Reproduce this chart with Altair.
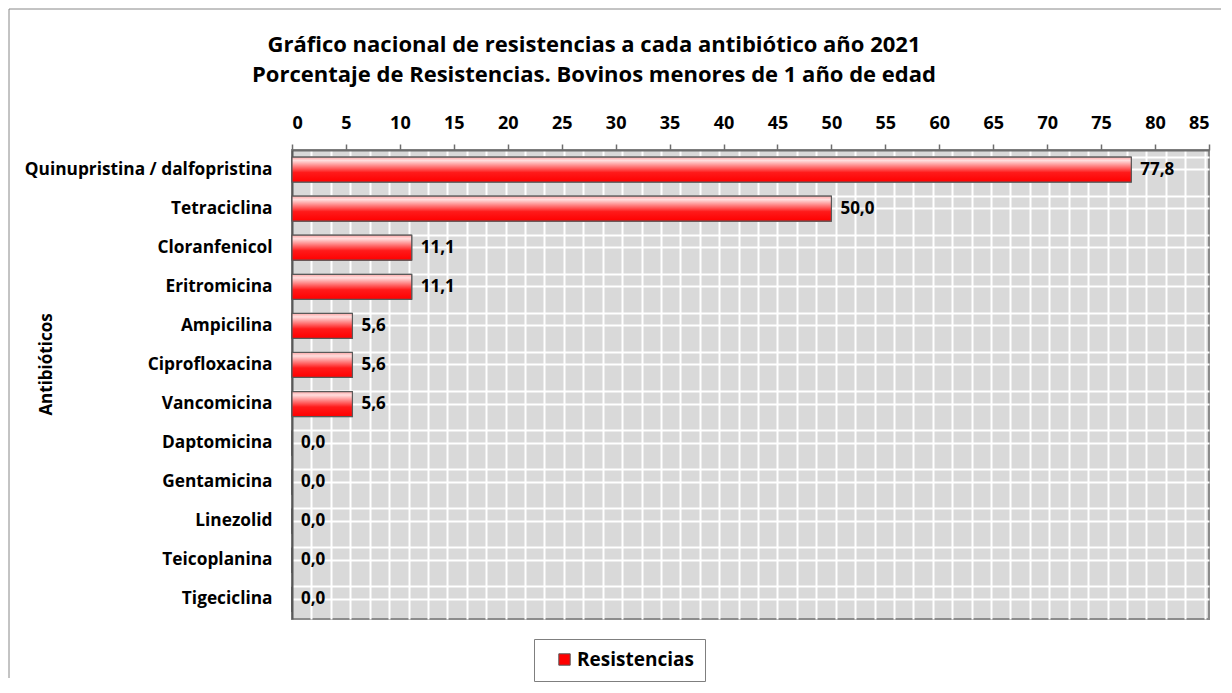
import altair as alt
import pandas as pd

antibioticos = ["Quinupristina / dalfopristina", "Tetraciclina", "Cloranfenicol", "Eritromicina",
                "Ampicilina", "Ciprofloxacina", "Vancomicina", "Daptomicina", "Gentamicina",
                "Linezolid", "Teicoplanina", "Tigeciclina"]
resistencias = [77.8, 50.0, 11.1, 11.1, 5.6, 5.6, 5.6, 0.0, 0.0, 0.0, 0.0, 0.0]
serie = "Resistencias"
x_ticks = list(range(0, 90, 5))
titulo_1 = "Gráfico nacional de resistencias a cada antibiótico año 2021"
titulo_2 = "Porcentaje de Resistencias. Bovinos menores de 1 año de edad"

df = pd.DataFrame({"antibiotico": antibioticos, "valor": resistencias, "serie": serie})

FONT = "Open Sans"
grid_vals = [round(i * 1.8, 2) for i in range(1, 48)]

xscale = alt.Scale(domain=[0, 85], nice=False, zero=True)
yscale = alt.Scale(paddingInner=0.36, paddingOuter=0.18)

base = alt.Chart(df)

solid = base.mark_bar(color="#ff0000", stroke="#595959", strokeWidth=1).encode(
    x=alt.X("valor:Q", scale=xscale,
            axis=alt.Axis(orient="top", values=x_ticks, grid=False, title=None,
                          labelFont=FONT, labelFontSize=18, labelFontWeight="bold",
                          labelColor="black", tickSize=6, tickColor="#6d6d6d", tickWidth=1.5,
                          domainColor="#6d6d6d", domainWidth=2, labelPadding=12)),
    y=alt.Y("antibiotico:N", sort=None, scale=yscale,
            axis=alt.Axis(orient="left", title="Antibióticos", ticks=False, grid=True,
                          gridColor="white", gridWidth=2, bandPosition=0.5,
                          labelFont=FONT, labelFontSize=17.3, labelFontWeight="bold",
                          labelColor="black", labelPadding=20, labelLimit=400,
                          domainColor="#595959", domainWidth=2,
                          titleFont=FONT, titleFontSize=17, titleFontWeight="bold",
                          titleColor="black", titleAngle=270, titleX=-246, titleY=214,
                          titleAlign="center", titleBaseline="middle")),
    fill=alt.Fill("serie:N", scale=alt.Scale(domain=[serie], range=["#ff0000"]),
                  legend=alt.Legend(title=None, orient="none", legendX=242, legendY=489,
                                    padding=11, strokeColor="#7f7f7f", fillColor="white",
                                    symbolType="square", symbolSize=130,
                                    symbolStrokeColor="#595959", symbolStrokeWidth=1,
                                    symbolOffset=10, labelOffset=3,
                                    labelFont=FONT, labelFontSize=19, labelFontWeight="bold",
                                    labelColor="black")),
)

gradient = alt.LinearGradient(
    gradient="linear", x1=0, y1=0, x2=0, y2=1,
    stops=[alt.GradientStop(color="#ffa8a8", offset=0),
           alt.GradientStop(color="#ffdede", offset=0.14),
           alt.GradientStop(color="#ff1a1a", offset=0.62),
           alt.GradientStop(color="#ff0000", offset=1)])

grad_bars = base.mark_bar(fill=gradient, stroke="#595959", strokeWidth=1.2).encode(
    x=alt.X("valor:Q", scale=xscale,
            axis=alt.Axis(orient="bottom", values=grid_vals, grid=True, gridColor="white",
                          gridWidth=2, labels=False, ticks=False, domain=False, title=None)),
    y=alt.Y("antibiotico:N", sort=None, scale=yscale,
            axis=alt.Axis(orient="right", grid=True, gridColor="white", gridWidth=2,
                          bandPosition=0, labels=False, ticks=False, domain=False, title=None)),
)

labels = base.transform_calculate(
    etiqueta="replace(format(datum.valor, '.1f'), '.', ',')"
).mark_text(align="left", baseline="middle", dx=9, font=FONT, fontSize=17,
            fontWeight="bold", color="black").encode(
    x=alt.X("valor:Q", scale=xscale, axis=None),
    y=alt.Y("antibiotico:N", sort=None, scale=yscale, axis=None),
    text="etiqueta:N",
)

one = alt.Chart(pd.DataFrame({"k": [0]}))
title_style = dict(align="center", baseline="middle", font=FONT, fontSize=22,
                   fontWeight="bold", color="black")
title_1 = one.mark_text(**title_style).encode(
    x=alt.value(302), y=alt.value(-105), text=alt.value(titulo_1))
title_2 = one.mark_text(**title_style).encode(
    x=alt.value(302), y=alt.value(-75), text=alt.value(titulo_2))

top_line = one.mark_rule(color="#888888", strokeWidth=1).encode(
    x=alt.value(-283), x2=alt.value(929), y=alt.value(-141))
left_line = one.mark_rule(color="#888888", strokeWidth=1).encode(
    x=alt.value(-283), y=alt.value(-141), y2=alt.value(528))

chart = alt.layer(solid, grad_bars, labels, title_1, title_2, top_line, left_line).resolve_axis(
    x="independent", y="independent"
).properties(
    width=917, height=469, padding=0, background="white"
).configure_view(
    fill="#d9d9d9", stroke="#8c8c8c", strokeWidth=2
)

chart.save("out.html", embed_options={"renderer": "svg", "actions": False})
